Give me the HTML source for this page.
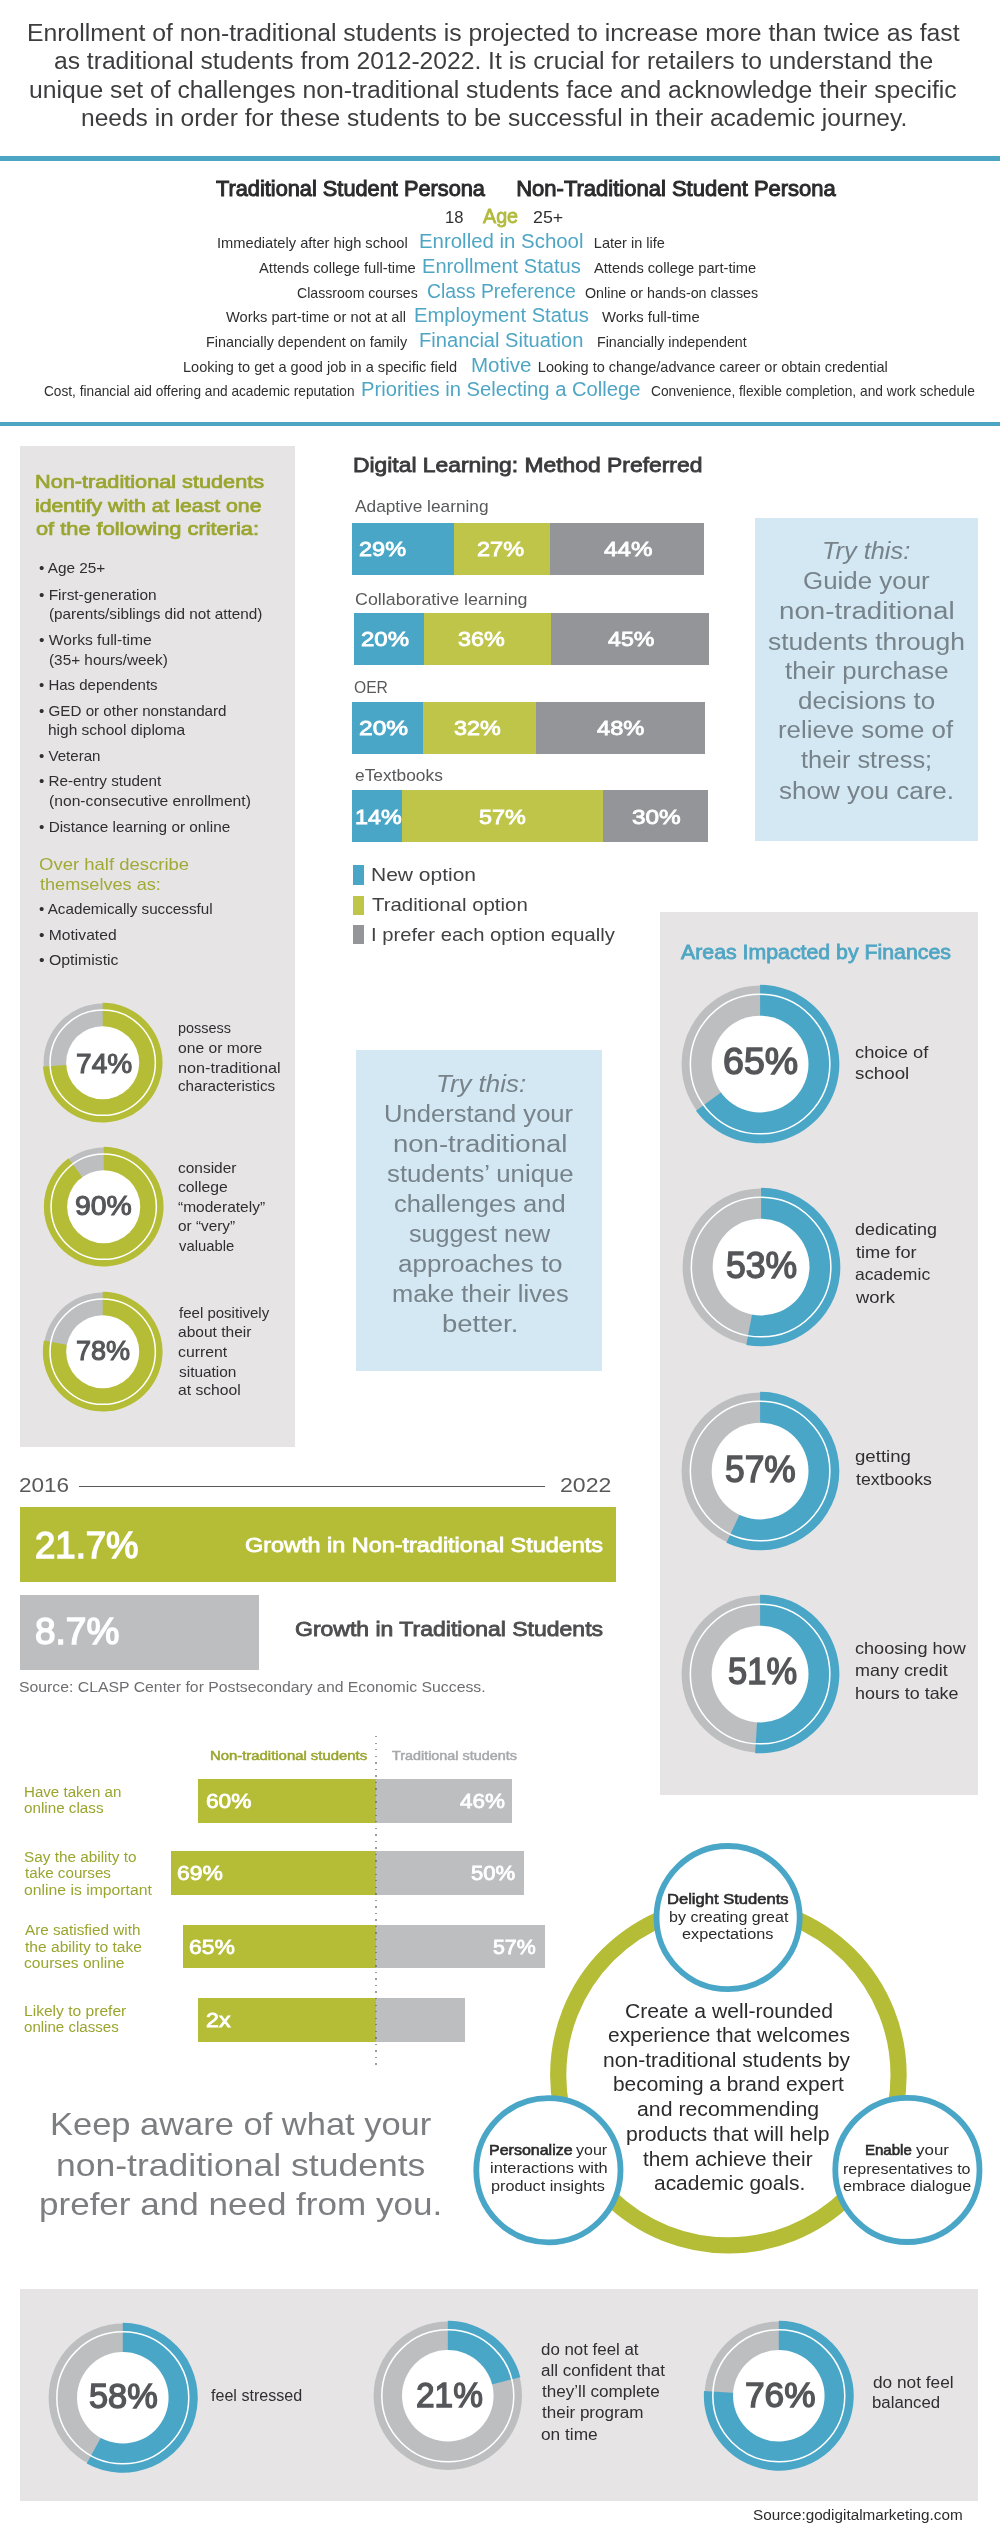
<!DOCTYPE html>
<html><head><meta charset="utf-8"><title>Non-traditional students</title>
<style>
html,body{margin:0;padding:0;background:#fff}
body{width:1000px;height:2544px;position:relative;overflow:hidden;font-family:"Liberation Sans",sans-serif}
#wrap{position:absolute;left:0;top:0;width:1000px;height:2544px;will-change:transform}
.r{position:absolute;display:block}
.t{position:absolute;display:block;white-space:nowrap;line-height:1;transform-origin:0 0}
</style></head><body><div id="wrap">
<span class="t" style="left:27.02px;top:22px;font-size:23px;color:#3d3d3f;transform:scaleX(1.0759);">Enrollment of non-traditional students is projected to increase more than twice as fast</span>
<span class="t" style="left:53.95px;top:50px;font-size:23px;color:#3d3d3f;transform:scaleX(1.0711);">as traditional students from 2012-2022. It is crucial for retailers to understand the</span>
<span class="t" style="left:29.45px;top:79px;font-size:23px;color:#3d3d3f;transform:scaleX(1.0748);">unique set of challenges non-traditional students face and acknowledge their specific</span>
<span class="t" style="left:80.90px;top:107px;font-size:23px;color:#3d3d3f;transform:scaleX(1.0671);">needs in order for these students to be successful in their academic journey.</span>
<div class="r" style="left:0px;top:156.1px;width:1000px;height:4.6px;background:#4ca5c2"></div>
<div class="r" style="left:0px;top:421.8px;width:1000px;height:4.4px;background:#4ca5c2"></div>
<span class="t" style="left:215.55px;top:178px;font-size:22px;color:#2b2b2d;-webkit-text-stroke:0.99px #2b2b2d;transform:scaleX(0.9891);">Traditional Student Persona</span>
<span class="t" style="left:516.24px;top:178px;font-size:22px;color:#2b2b2d;-webkit-text-stroke:0.99px #2b2b2d;">Non-Traditional Student Persona</span>
<span class="t" style="left:445.26px;top:209px;font-size:16.5px;color:#2f2f31;transform:scaleX(1.0050);">18</span>
<span class="t" style="left:482.89px;top:207px;font-size:19.5px;color:#b2ba3c;-webkit-text-stroke:0.78px #b2ba3c;transform:scaleX(1.0112);">Age</span>
<span class="t" style="left:533.11px;top:209px;font-size:16.5px;color:#2f2f31;transform:scaleX(1.0812);">25+</span>
<span class="t" style="left:217.18px;top:236px;font-size:14.5px;color:#2f2f31;transform:scaleX(1.0115);">Immediately after high school</span>
<span class="t" style="left:419.37px;top:231px;font-size:20px;color:#4fa6c4;transform:scaleX(1.0202);">Enrolled in School</span>
<span class="t" style="left:593.84px;top:236px;font-size:14.5px;color:#2f2f31;">Later in life</span>
<span class="t" style="left:259.00px;top:261px;font-size:14.5px;color:#2f2f31;transform:scaleX(1.0176);">Attends college full-time</span>
<span class="t" style="left:421.89px;top:256px;font-size:20px;color:#4fa6c4;transform:scaleX(1.0061);">Enrollment Status</span>
<span class="t" style="left:593.50px;top:261px;font-size:14.5px;color:#2f2f31;transform:scaleX(1.0109);">Attends college part-time</span>
<span class="t" style="left:296.79px;top:286px;font-size:14.5px;color:#2f2f31;transform:scaleX(0.9727);">Classroom courses</span>
<span class="t" style="left:427.03px;top:281px;font-size:20px;color:#4fa6c4;transform:scaleX(0.9700);">Class Preference</span>
<span class="t" style="left:585.36px;top:286px;font-size:14.5px;color:#2f2f31;transform:scaleX(0.9854);">Online or hands-on classes</span>
<span class="t" style="left:225.96px;top:310px;font-size:14.5px;color:#2f2f31;transform:scaleX(1.0121);">Works part-time or not at all</span>
<span class="t" style="left:414.39px;top:305px;font-size:20px;color:#4fa6c4;transform:scaleX(1.0082);">Employment Status</span>
<span class="t" style="left:601.96px;top:310px;font-size:14.5px;color:#2f2f31;transform:scaleX(1.0217);">Works full-time</span>
<span class="t" style="left:206.35px;top:335px;font-size:14.5px;color:#2f2f31;transform:scaleX(0.9902);">Financially dependent on family</span>
<span class="t" style="left:419.39px;top:330px;font-size:20px;color:#4fa6c4;transform:scaleX(1.0059);">Financial Situation</span>
<span class="t" style="left:597.36px;top:335px;font-size:14.5px;color:#2f2f31;transform:scaleX(0.9826);">Financially independent</span>
<span class="t" style="left:182.84px;top:360px;font-size:14.5px;color:#2f2f31;transform:scaleX(1.0030);">Looking to get a good job in a specific field</span>
<span class="t" style="left:471.36px;top:355px;font-size:20px;color:#4fa6c4;transform:scaleX(1.0275);">Motive</span>
<span class="t" style="left:537.84px;top:360px;font-size:14.5px;color:#2f2f31;">Looking to change/advance career or obtain credential</span>
<span class="t" style="left:44.32px;top:384px;font-size:14.5px;color:#2f2f31;transform:scaleX(0.9427);">Cost, financial aid offering and academic reputation</span>
<span class="t" style="left:361.38px;top:379px;font-size:20px;color:#4fa6c4;transform:scaleX(1.0097);">Priorities in Selecting a College</span>
<span class="t" style="left:650.81px;top:384px;font-size:14.5px;color:#2f2f31;transform:scaleX(0.9497);">Convenience, flexible completion, and work schedule</span>
<div class="r" style="left:20px;top:446.3px;width:275px;height:1000.7px;background:#e6e4e5"></div>
<span class="t" style="left:34.70px;top:474px;font-size:17.5px;color:#9aa52e;-webkit-text-stroke:0.70px #9aa52e;transform:scaleX(1.2396);">Non-traditional students</span>
<span class="t" style="left:35.05px;top:498px;font-size:17.5px;color:#9aa52e;-webkit-text-stroke:0.70px #9aa52e;transform:scaleX(1.2124);">identify with at least one</span>
<span class="t" style="left:35.56px;top:521px;font-size:17.5px;color:#9aa52e;-webkit-text-stroke:0.70px #9aa52e;transform:scaleX(1.2457);">of the following criteria:</span>
<span class="t" style="left:39.43px;top:561px;font-size:14.5px;color:#2f2f31;transform:scaleX(1.0573);">• Age 25+</span>
<span class="t" style="left:39.42px;top:588px;font-size:14.5px;color:#2f2f31;transform:scaleX(1.0624);">• First-generation</span>
<span class="t" style="left:48.58px;top:607px;font-size:14.5px;color:#2f2f31;transform:scaleX(1.0545);">(parents/siblings did not attend)</span>
<span class="t" style="left:39.41px;top:633px;font-size:14.5px;color:#2f2f31;transform:scaleX(1.0770);">• Works full-time</span>
<span class="t" style="left:48.58px;top:653px;font-size:14.5px;color:#2f2f31;transform:scaleX(1.0572);">(35+ hours/week)</span>
<span class="t" style="left:39.44px;top:678px;font-size:14.5px;color:#2f2f31;transform:scaleX(1.0336);">• Has dependents</span>
<span class="t" style="left:39.43px;top:704px;font-size:14.5px;color:#2f2f31;transform:scaleX(1.0467);">• GED or other nonstandard</span>
<span class="t" style="left:48.45px;top:723px;font-size:14.5px;color:#2f2f31;transform:scaleX(1.0692);">high school diploma</span>
<span class="t" style="left:39.43px;top:749px;font-size:14.5px;color:#2f2f31;transform:scaleX(1.0410);">• Veteran</span>
<span class="t" style="left:39.43px;top:774px;font-size:14.5px;color:#2f2f31;transform:scaleX(1.0504);">• Re-entry student</span>
<span class="t" style="left:48.56px;top:794px;font-size:14.5px;color:#2f2f31;transform:scaleX(1.0797);">(non-consecutive enrollment)</span>
<span class="t" style="left:39.42px;top:820px;font-size:14.5px;color:#2f2f31;transform:scaleX(1.0578);">• Distance learning or online</span>
<span class="t" style="left:39.17px;top:856px;font-size:17px;color:#a0aa35;transform:scaleX(1.0882);">Over half describe</span>
<span class="t" style="left:39.73px;top:876px;font-size:17px;color:#a0aa35;transform:scaleX(1.0663);">themselves as:</span>
<span class="t" style="left:39.43px;top:902px;font-size:14.5px;color:#2f2f31;transform:scaleX(1.0490);">• Academically successful</span>
<span class="t" style="left:39.41px;top:928px;font-size:14.5px;color:#2f2f31;transform:scaleX(1.0779);">• Motivated</span>
<span class="t" style="left:39.41px;top:953px;font-size:14.5px;color:#2f2f31;transform:scaleX(1.0926);">• Optimistic</span>
<svg class="r" style="left:40.4px;top:1000.3px" width="125.4" height="125.4" viewBox="40.4 1000.3 125.4 125.4"><circle cx="103.1" cy="1063" r="59.10" fill="#bcbec0"/><path d="M103.1 1063 L103.1 1003.15 A59.85 59.85 0 1 1 43.37 1066.76 Z" fill="#b4bd35"/><circle cx="103.1" cy="1063" r="36.54" fill="#fff"/><circle cx="103.1" cy="1063" r="52.66" fill="none" stroke="#fff" stroke-width="1.5"/></svg>
<svg class="r" style="left:40.8px;top:1144.1px" width="125.4" height="125.4" viewBox="40.8 1144.1 125.4 125.4"><circle cx="103.5" cy="1206.8" r="59.10" fill="#bcbec0"/><path d="M103.5 1206.8 L103.5 1146.95 A59.85 59.85 0 1 1 68.32 1158.38 Z" fill="#b4bd35"/><circle cx="103.5" cy="1206.8" r="36.54" fill="#fff"/><circle cx="103.5" cy="1206.8" r="52.66" fill="none" stroke="#fff" stroke-width="1.5"/></svg>
<svg class="r" style="left:39.9px;top:1288.8px" width="125.4" height="125.4" viewBox="39.9 1288.8 125.4 125.4"><circle cx="102.6" cy="1351.5" r="59.10" fill="#bcbec0"/><path d="M102.6 1351.5 L102.6 1291.65 A59.85 59.85 0 1 1 43.81 1340.29 Z" fill="#b4bd35"/><circle cx="102.6" cy="1351.5" r="36.54" fill="#fff"/><circle cx="102.6" cy="1351.5" r="52.66" fill="none" stroke="#fff" stroke-width="1.5"/></svg>
<span class="t" style="left:76.16px;top:1050px;font-size:27.5px;color:#555659;-webkit-text-stroke:1.10px #555659;transform:scaleX(1.0217);">74%</span>
<span class="t" style="left:75.29px;top:1192px;font-size:27.5px;color:#555659;-webkit-text-stroke:1.10px #555659;transform:scaleX(1.0321);">90%</span>
<span class="t" style="left:76.19px;top:1337px;font-size:27.5px;color:#555659;-webkit-text-stroke:1.10px #555659;transform:scaleX(0.9846);">78%</span>
<span class="t" style="left:178.10px;top:1021px;font-size:14.5px;color:#2f2f31;transform:scaleX(0.9949);">possess</span>
<span class="t" style="left:178.37px;top:1041px;font-size:14.5px;color:#2f2f31;transform:scaleX(1.0785);">one or more</span>
<span class="t" style="left:177.95px;top:1061px;font-size:14.5px;color:#2f2f31;transform:scaleX(1.1166);">non-traditional</span>
<span class="t" style="left:178.35px;top:1079px;font-size:14.5px;color:#2f2f31;transform:scaleX(1.0488);">characteristics</span>
<span class="t" style="left:178.34px;top:1161px;font-size:14.5px;color:#2f2f31;transform:scaleX(1.0653);">consider</span>
<span class="t" style="left:178.33px;top:1180px;font-size:14.5px;color:#2f2f31;transform:scaleX(1.0851);">college</span>
<span class="t" style="left:178.46px;top:1200px;font-size:14.5px;color:#2f2f31;transform:scaleX(1.0701);">“moderately”</span>
<span class="t" style="left:178.39px;top:1219px;font-size:14.5px;color:#2f2f31;transform:scaleX(1.0588);">or “very”</span>
<span class="t" style="left:178.96px;top:1239px;font-size:14.5px;color:#2f2f31;transform:scaleX(1.0214);">valuable</span>
<span class="t" style="left:178.81px;top:1306px;font-size:14.5px;color:#2f2f31;transform:scaleX(1.0362);">feel positively</span>
<span class="t" style="left:178.34px;top:1325px;font-size:14.5px;color:#2f2f31;transform:scaleX(1.0712);">about their</span>
<span class="t" style="left:178.33px;top:1345px;font-size:14.5px;color:#2f2f31;transform:scaleX(1.0913);">current</span>
<span class="t" style="left:178.58px;top:1365px;font-size:14.5px;color:#2f2f31;transform:scaleX(1.0632);">situation</span>
<span class="t" style="left:178.33px;top:1383px;font-size:14.5px;color:#2f2f31;transform:scaleX(1.0801);">at school</span>
<span class="t" style="left:352.63px;top:455px;font-size:20.5px;color:#3a3a3c;-webkit-text-stroke:0.82px #3a3a3c;transform:scaleX(1.1149);">Digital Learning: Method Preferred</span>
<span class="t" style="left:354.50px;top:498px;font-size:17px;color:#58595b;transform:scaleX(1.0168);">Adaptive learning</span>
<span class="t" style="left:354.61px;top:591px;font-size:17px;color:#58595b;transform:scaleX(1.0491);">Collaborative learning</span>
<span class="t" style="left:353.80px;top:679px;font-size:17px;color:#58595b;transform:scaleX(0.9202);">OER</span>
<span class="t" style="left:354.76px;top:767px;font-size:17px;color:#58595b;transform:scaleX(1.0212);">eTextbooks</span>
<div class="r" style="left:352px;top:523px;width:102px;height:52px;background:#4aa6c7"></div>
<div class="r" style="left:454px;top:523px;width:96px;height:52px;background:#bec548"></div>
<div class="r" style="left:550px;top:523px;width:154px;height:52px;background:#939598"></div>
<span class="t" style="left:359.30px;top:538px;font-size:21px;color:#fff;-webkit-text-stroke:0.84px #fff;transform:scaleX(1.1190);">29%</span>
<span class="t" style="left:477.30px;top:538px;font-size:21px;color:#fff;-webkit-text-stroke:0.84px #fff;transform:scaleX(1.1190);">27%</span>
<span class="t" style="left:603.94px;top:538px;font-size:21px;color:#fff;-webkit-text-stroke:0.84px #fff;transform:scaleX(1.1515);">44%</span>
<div class="r" style="left:354px;top:613px;width:70px;height:52px;background:#4aa6c7"></div>
<div class="r" style="left:424px;top:613px;width:127px;height:52px;background:#bec548"></div>
<div class="r" style="left:551px;top:613px;width:158px;height:52px;background:#939598"></div>
<span class="t" style="left:361.28px;top:628px;font-size:21px;color:#fff;-webkit-text-stroke:0.84px #fff;transform:scaleX(1.1433);">20%</span>
<span class="t" style="left:457.59px;top:628px;font-size:21px;color:#fff;-webkit-text-stroke:0.84px #fff;transform:scaleX(1.1119);">36%</span>
<span class="t" style="left:607.94px;top:628px;font-size:21px;color:#fff;-webkit-text-stroke:0.84px #fff;transform:scaleX(1.1035);">45%</span>
<div class="r" style="left:352px;top:702px;width:71px;height:52px;background:#4aa6c7"></div>
<div class="r" style="left:423px;top:702px;width:113px;height:52px;background:#bec548"></div>
<div class="r" style="left:536px;top:702px;width:169px;height:52px;background:#939598"></div>
<span class="t" style="left:359.26px;top:717px;font-size:21px;color:#fff;-webkit-text-stroke:0.84px #fff;transform:scaleX(1.1677);">20%</span>
<span class="t" style="left:453.59px;top:717px;font-size:21px;color:#fff;-webkit-text-stroke:0.84px #fff;transform:scaleX(1.1119);">32%</span>
<span class="t" style="left:596.94px;top:717px;font-size:21px;color:#fff;-webkit-text-stroke:0.84px #fff;transform:scaleX(1.1275);">48%</span>
<div class="r" style="left:352px;top:790px;width:50px;height:52px;background:#4aa6c7"></div>
<div class="r" style="left:402px;top:790px;width:201px;height:52px;background:#bec548"></div>
<div class="r" style="left:603px;top:790px;width:105px;height:52px;background:#939598"></div>
<span class="t" style="left:354.72px;top:806px;font-size:21px;color:#fff;-webkit-text-stroke:0.84px #fff;transform:scaleX(1.1089);">14%</span>
<span class="t" style="left:478.53px;top:806px;font-size:21px;color:#fff;-webkit-text-stroke:0.84px #fff;transform:scaleX(1.1133);">57%</span>
<span class="t" style="left:631.57px;top:806px;font-size:21px;color:#fff;-webkit-text-stroke:0.84px #fff;transform:scaleX(1.1603);">30%</span>
<div class="r" style="left:352.5px;top:865px;width:11.2px;height:19.6px;background:#4aa6c7"></div>
<div class="r" style="left:352.5px;top:895.5px;width:11.2px;height:19.5px;background:#bec548"></div>
<div class="r" style="left:352.5px;top:925.2px;width:11.2px;height:18.8px;background:#939598"></div>
<span class="t" style="left:371.32px;top:866px;font-size:18.5px;color:#414143;transform:scaleX(1.1345);">New option</span>
<span class="t" style="left:371.59px;top:896px;font-size:18.5px;color:#414143;transform:scaleX(1.1026);">Traditional option</span>
<span class="t" style="left:371.18px;top:926px;font-size:18.5px;color:#414143;transform:scaleX(1.0924);">I prefer each option equally</span>
<div class="r" style="left:755px;top:517.5px;width:223.4px;height:323.2px;background:#d3e8f2"></div>
<span class="t" style="left:822.28px;top:540px;font-size:23px;color:#77828a;font-style:italic;transform:scaleX(1.1015);">Try this:</span>
<span class="t" style="left:802.71px;top:570px;font-size:23px;color:#77828a;transform:scaleX(1.1258);">Guide your</span>
<span class="t" style="left:779.20px;top:600px;font-size:23px;color:#77828a;transform:scaleX(1.2047);">non-traditional</span>
<span class="t" style="left:768.27px;top:631px;font-size:23px;color:#77828a;transform:scaleX(1.1490);">students through</span>
<span class="t" style="left:784.61px;top:660px;font-size:23px;color:#77828a;transform:scaleX(1.1220);">their purchase</span>
<span class="t" style="left:797.96px;top:690px;font-size:23px;color:#77828a;transform:scaleX(1.1288);">decisions to</span>
<span class="t" style="left:778.32px;top:719px;font-size:23px;color:#77828a;transform:scaleX(1.1230);">relieve some of</span>
<span class="t" style="left:801.12px;top:749px;font-size:23px;color:#77828a;transform:scaleX(1.1031);">their stress;</span>
<span class="t" style="left:779.28px;top:780px;font-size:23px;color:#77828a;transform:scaleX(1.1318);">show you care.</span>
<div class="r" style="left:356.2px;top:1050.2px;width:245.6px;height:320.6px;background:#d3e8f2"></div>
<span class="t" style="left:435.74px;top:1073px;font-size:23px;color:#77828a;font-style:italic;transform:scaleX(1.1249);">Try this:</span>
<span class="t" style="left:384.28px;top:1103px;font-size:23px;color:#77828a;transform:scaleX(1.1122);">Understand your</span>
<span class="t" style="left:392.81px;top:1133px;font-size:23px;color:#77828a;transform:scaleX(1.1963);">non-traditional</span>
<span class="t" style="left:386.89px;top:1163px;font-size:23px;color:#77828a;transform:scaleX(1.1198);">students’ unique</span>
<span class="t" style="left:393.92px;top:1193px;font-size:23px;color:#77828a;transform:scaleX(1.1095);">challenges and</span>
<span class="t" style="left:408.71px;top:1223px;font-size:23px;color:#77828a;transform:scaleX(1.0936);">suggest new</span>
<span class="t" style="left:397.70px;top:1253px;font-size:23px;color:#77828a;transform:scaleX(1.1288);">approaches to</span>
<span class="t" style="left:391.55px;top:1283px;font-size:23px;color:#77828a;transform:scaleX(1.1061);">make their lives</span>
<span class="t" style="left:442.48px;top:1313px;font-size:23px;color:#77828a;transform:scaleX(1.1947);">better.</span>
<div class="r" style="left:660px;top:912px;width:318.4px;height:883px;background:#e6e4e5"></div>
<span class="t" style="left:681.43px;top:943px;font-size:19.5px;color:#4fa6c4;-webkit-text-stroke:0.78px #4fa6c4;transform:scaleX(1.0922);">Areas Impacted by Finances</span>
<svg class="r" style="left:677.9px;top:981.6px" width="164.2" height="164.2" viewBox="677.9 981.6 164.2 164.2"><circle cx="760" cy="1063.7" r="78.50" fill="#bcbec0"/><path d="M760 1063.7 L760 984.45 A79.25 79.25 0 1 1 695.89 1110.28 Z" fill="#4aa6c7"/><circle cx="760" cy="1063.7" r="48.41" fill="#fff"/><circle cx="760" cy="1063.7" r="69.77" fill="none" stroke="#fff" stroke-width="1.5"/></svg>
<svg class="r" style="left:679.3px;top:1184.65px" width="164.2" height="164.2" viewBox="679.3 1184.65 164.2 164.2"><circle cx="761.4" cy="1266.75" r="78.50" fill="#bcbec0"/><path d="M761.4 1266.75 L761.4 1187.50 A79.25 79.25 0 1 1 746.55 1344.60 Z" fill="#4aa6c7"/><circle cx="761.4" cy="1266.75" r="48.41" fill="#fff"/><circle cx="761.4" cy="1266.75" r="69.77" fill="none" stroke="#fff" stroke-width="1.5"/></svg>
<svg class="r" style="left:678.1px;top:1389.15px" width="164.2" height="164.2" viewBox="678.1 1389.15 164.2 164.2"><circle cx="760.2" cy="1471.25" r="78.50" fill="#bcbec0"/><path d="M760.2 1471.25 L760.2 1392.00 A79.25 79.25 0 1 1 726.46 1542.96 Z" fill="#4aa6c7"/><circle cx="760.2" cy="1471.25" r="48.41" fill="#fff"/><circle cx="760.2" cy="1471.25" r="69.77" fill="none" stroke="#fff" stroke-width="1.5"/></svg>
<svg class="r" style="left:677.9px;top:1591.65px" width="164.2" height="164.2" viewBox="677.9 1591.65 164.2 164.2"><circle cx="760" cy="1673.75" r="78.50" fill="#bcbec0"/><path d="M760 1673.75 L760 1594.50 A79.25 79.25 0 1 1 755.02 1752.84 Z" fill="#4aa6c7"/><circle cx="760" cy="1673.75" r="48.41" fill="#fff"/><circle cx="760" cy="1673.75" r="69.77" fill="none" stroke="#fff" stroke-width="1.5"/></svg>
<span class="t" style="left:722.87px;top:1044px;font-size:36.5px;color:#555659;-webkit-text-stroke:1.46px #555659;transform:scaleX(1.0287);">65%</span>
<span class="t" style="left:726.29px;top:1248px;font-size:36.5px;color:#555659;-webkit-text-stroke:1.46px #555659;transform:scaleX(0.9747);">53%</span>
<span class="t" style="left:725.29px;top:1452px;font-size:36.5px;color:#555659;-webkit-text-stroke:1.46px #555659;transform:scaleX(0.9692);">57%</span>
<span class="t" style="left:727.61px;top:1654px;font-size:36.5px;color:#555659;-webkit-text-stroke:1.46px #555659;transform:scaleX(0.9455);">51%</span>
<span class="t" style="left:855.22px;top:1044px;font-size:16.5px;color:#2f2f31;transform:scaleX(1.1089);">choice of</span>
<span class="t" style="left:855.48px;top:1065px;font-size:16.5px;color:#2f2f31;transform:scaleX(1.1374);">school</span>
<span class="t" style="left:855.28px;top:1221px;font-size:16.5px;color:#2f2f31;transform:scaleX(1.0883);">dedicating</span>
<span class="t" style="left:855.73px;top:1244px;font-size:16.5px;color:#2f2f31;transform:scaleX(1.1011);">time for</span>
<span class="t" style="left:855.25px;top:1266px;font-size:16.5px;color:#2f2f31;transform:scaleX(1.0647);">academic</span>
<span class="t" style="left:856.05px;top:1289px;font-size:16.5px;color:#2f2f31;transform:scaleX(1.1162);">work</span>
<span class="t" style="left:855.26px;top:1448px;font-size:16.5px;color:#2f2f31;transform:scaleX(1.1285);">getting</span>
<span class="t" style="left:855.73px;top:1471px;font-size:16.5px;color:#2f2f31;transform:scaleX(1.0746);">textbooks</span>
<span class="t" style="left:855.23px;top:1640px;font-size:16.5px;color:#2f2f31;transform:scaleX(1.0974);">choosing how</span>
<span class="t" style="left:854.83px;top:1662px;font-size:16.5px;color:#2f2f31;transform:scaleX(1.0879);">many credit</span>
<span class="t" style="left:854.79px;top:1685px;font-size:16.5px;color:#2f2f31;transform:scaleX(1.0849);">hours to take</span>
<span class="t" style="left:18.87px;top:1475px;font-size:20.5px;color:#58595b;transform:scaleX(1.0993);">2016</span>
<span class="t" style="left:559.85px;top:1475px;font-size:20.5px;color:#58595b;transform:scaleX(1.1248);">2022</span>
<div class="r" style="left:79px;top:1485.5px;width:466px;height:1.2px;background:#58595b"></div>
<div class="r" style="left:20px;top:1506.8px;width:596px;height:75.2px;background:#b4bd35"></div>
<div class="r" style="left:20px;top:1594.8px;width:238.8px;height:75px;background:#bcbec0"></div>
<span class="t" style="left:34.90px;top:1527px;font-size:37.5px;color:#fff;-webkit-text-stroke:1.50px #fff;transform:scaleX(0.9740);">21.7%</span>
<span class="t" style="left:35.17px;top:1613px;font-size:37.5px;color:#fff;-webkit-text-stroke:1.50px #fff;transform:scaleX(0.9870);">8.7%</span>
<span class="t" style="left:245.30px;top:1534px;font-size:21px;color:#fff;-webkit-text-stroke:0.84px #fff;transform:scaleX(1.1155);">Growth in Non-traditional Students</span>
<span class="t" style="left:295.31px;top:1618px;font-size:21px;color:#4d4d4f;-webkit-text-stroke:0.84px #4d4d4f;transform:scaleX(1.0949);">Growth in Traditional Students</span>
<span class="t" style="left:19.29px;top:1679px;font-size:15.5px;color:#6d6e71;transform:scaleX(1.0187);">Source: CLASP Center for Postsecondary and Economic Success.</span>
<span class="t" style="left:209.91px;top:1750px;font-size:12.5px;color:#9aa52e;-webkit-text-stroke:0.50px #9aa52e;transform:scaleX(1.1900);">Non-traditional students</span>
<span class="t" style="left:392.40px;top:1750px;font-size:12.5px;color:#a7a9ac;-webkit-text-stroke:0.50px #a7a9ac;transform:scaleX(1.1490);">Traditional students</span>
<div class="r" style="left:198px;top:1779.2px;width:178px;height:43.4px;background:#b4bd35"></div>
<div class="r" style="left:376px;top:1779.2px;width:136.4px;height:43.4px;background:#bcbec0"></div>
<span class="t" style="left:206.12px;top:1791px;font-size:20px;color:#fff;-webkit-text-stroke:0.80px #fff;transform:scaleX(1.1341);">60%</span>
<span class="t" style="left:460.44px;top:1791px;font-size:20px;color:#fff;-webkit-text-stroke:0.80px #fff;transform:scaleX(1.1209);">46%</span>
<div class="r" style="left:170.8px;top:1851.3px;width:205.2px;height:43.4px;background:#b4bd35"></div>
<div class="r" style="left:376px;top:1851.3px;width:148px;height:43.4px;background:#bcbec0"></div>
<span class="t" style="left:177.31px;top:1863px;font-size:20px;color:#fff;-webkit-text-stroke:0.80px #fff;transform:scaleX(1.1443);">69%</span>
<span class="t" style="left:470.56px;top:1863px;font-size:20px;color:#fff;-webkit-text-stroke:0.80px #fff;transform:scaleX(1.1055);">50%</span>
<div class="r" style="left:182.8px;top:1924.7px;width:193.2px;height:43.5px;background:#b4bd35"></div>
<div class="r" style="left:376px;top:1924.7px;width:169px;height:43.5px;background:#bcbec0"></div>
<span class="t" style="left:189.31px;top:1937px;font-size:20px;color:#fff;-webkit-text-stroke:0.80px #fff;transform:scaleX(1.1443);">65%</span>
<span class="t" style="left:493.07px;top:1937px;font-size:20px;color:#fff;-webkit-text-stroke:0.80px #fff;transform:scaleX(1.0673);">57%</span>
<div class="r" style="left:197.6px;top:1998px;width:178.4px;height:43.8px;background:#b4bd35"></div>
<div class="r" style="left:376px;top:1998px;width:88.7px;height:43.8px;background:#bcbec0"></div>
<span class="t" style="left:206.10px;top:2010px;font-size:20px;color:#fff;-webkit-text-stroke:0.80px #fff;transform:scaleX(1.1594);">2x</span>
<div class="r" style="left:375.4px;top:1736px;width:1.2px;height:331px;background:repeating-linear-gradient(to bottom,rgba(95,97,100,.62) 0,rgba(95,97,100,.62) 1.3px,transparent 1.3px,transparent 6.55px)"></div>
<span class="t" style="left:23.59px;top:1784px;font-size:15.5px;color:#9aa52e;transform:scaleX(0.9741);">Have taken an</span>
<span class="t" style="left:24.19px;top:1800px;font-size:15.5px;color:#9aa52e;transform:scaleX(0.9821);">online class</span>
<span class="t" style="left:24.11px;top:1849px;font-size:15.5px;color:#9aa52e;transform:scaleX(0.9892);">Say the ability to</span>
<span class="t" style="left:24.57px;top:1865px;font-size:15.5px;color:#9aa52e;transform:scaleX(0.9781);">take courses</span>
<span class="t" style="left:24.17px;top:1882px;font-size:15.5px;color:#9aa52e;transform:scaleX(1.0169);">online is important</span>
<span class="t" style="left:24.80px;top:1922px;font-size:15.5px;color:#9aa52e;transform:scaleX(0.9847);">Are satisfied with</span>
<span class="t" style="left:24.57px;top:1939px;font-size:15.5px;color:#9aa52e;transform:scaleX(1.0052);">the ability to take</span>
<span class="t" style="left:24.14px;top:1955px;font-size:15.5px;color:#9aa52e;transform:scaleX(1.0059);">courses online</span>
<span class="t" style="left:23.55px;top:2003px;font-size:15.5px;color:#9aa52e;transform:scaleX(1.0063);">Likely to prefer</span>
<span class="t" style="left:24.20px;top:2019px;font-size:15.5px;color:#9aa52e;transform:scaleX(0.9728);">online classes</span>
<span class="t" style="left:49.64px;top:2108px;font-size:32px;color:#7d7e81;transform:scaleX(1.0770);">Keep aware of what your</span>
<span class="t" style="left:55.99px;top:2149px;font-size:32px;color:#7d7e81;transform:scaleX(1.1101);">non-traditional students</span>
<span class="t" style="left:39.41px;top:2188px;font-size:32px;color:#7d7e81;transform:scaleX(1.0948);">prefer and need from you.</span>
<svg class="r" style="left:460px;top:1830px" width="540" height="440" viewBox="460 1830 540 440"><circle cx="728.4" cy="2075.2" r="170.2" fill="none" stroke="#b4bd35" stroke-width="16.2"/><circle cx="728.1" cy="1917.6" r="71.6" fill="#fff" stroke="#4aa6c7" stroke-width="5.8"/><circle cx="548.4" cy="2170.2" r="72.1" fill="#fff" stroke="#4aa6c7" stroke-width="5.8"/><circle cx="907.4" cy="2169.9" r="72.1" fill="#fff" stroke="#4aa6c7" stroke-width="5.8"/></svg>
<span class="t" style="left:666.91px;top:1892px;font-size:14.5px;color:#2b2b2d;-webkit-text-stroke:0.58px #2b2b2d;transform:scaleX(1.1433);">Delight Students</span>
<span class="t" style="left:668.50px;top:1909px;font-size:15.5px;color:#2b2b2d;transform:scaleX(1.0342);">by creating great</span>
<span class="t" style="left:682.31px;top:1926px;font-size:15.5px;color:#2b2b2d;transform:scaleX(1.0509);">expectations</span>
<span class="t" style="left:624.74px;top:2001px;font-size:20.5px;color:#2b2b2d;transform:scaleX(1.0318);">Create a well-rounded</span>
<span class="t" style="left:607.61px;top:2025px;font-size:20.5px;color:#2b2b2d;transform:scaleX(1.0206);">experience that welcomes</span>
<span class="t" style="left:603.33px;top:2050px;font-size:20.5px;color:#2b2b2d;transform:scaleX(1.0275);">non-traditional students by</span>
<span class="t" style="left:612.60px;top:2074px;font-size:20.5px;color:#2b2b2d;transform:scaleX(1.0182);">becoming a brand expert</span>
<span class="t" style="left:637.30px;top:2099px;font-size:20.5px;color:#2b2b2d;transform:scaleX(1.0373);">and recommending</span>
<span class="t" style="left:626.08px;top:2124px;font-size:20.5px;color:#2b2b2d;transform:scaleX(1.0328);">products that will help</span>
<span class="t" style="left:643.29px;top:2149px;font-size:20.5px;color:#2b2b2d;transform:scaleX(1.0128);">them achieve their</span>
<span class="t" style="left:653.51px;top:2173px;font-size:20.5px;color:#2b2b2d;transform:scaleX(1.0213);">academic goals.</span>
<span class="t" style="left:488.74px;top:2143px;font-size:14.5px;color:#2b2b2d;-webkit-text-stroke:0.58px #2b2b2d;transform:scaleX(1.1037);">Personalize</span>
<span class="t" style="left:575.96px;top:2142px;font-size:15.5px;color:#2b2b2d;transform:scaleX(1.0343);">your</span>
<span class="t" style="left:489.73px;top:2160px;font-size:15.5px;color:#2b2b2d;transform:scaleX(1.0581);">interactions with</span>
<span class="t" style="left:491.38px;top:2178px;font-size:15.5px;color:#2b2b2d;transform:scaleX(1.0489);">product insights</span>
<span class="t" style="left:864.60px;top:2143px;font-size:14.5px;color:#2b2b2d;-webkit-text-stroke:0.58px #2b2b2d;transform:scaleX(1.0356);">Enable</span>
<span class="t" style="left:915.96px;top:2142px;font-size:15.5px;color:#2b2b2d;transform:scaleX(1.0945);">your</span>
<span class="t" style="left:843.46px;top:2161px;font-size:15.5px;color:#2b2b2d;transform:scaleX(1.0349);">representatives to</span>
<span class="t" style="left:842.71px;top:2178px;font-size:15.5px;color:#2b2b2d;transform:scaleX(1.0410);">embrace dialogue</span>
<div class="r" style="left:20px;top:2288.8px;width:958.4px;height:212.4px;background:#e6e4e5"></div>
<svg class="r" style="left:45px;top:2319.5px" width="155.6" height="155.6" viewBox="45 2319.5 155.6 155.6"><circle cx="122.8" cy="2397.3" r="74.20" fill="#bcbec0"/><path d="M122.8 2397.3 L122.8 2322.35 A74.95 74.95 0 1 1 86.69 2462.98 Z" fill="#4aa6c7"/><circle cx="122.8" cy="2397.3" r="45.78" fill="#fff"/><circle cx="122.8" cy="2397.3" r="65.97" fill="none" stroke="#fff" stroke-width="1.5"/></svg>
<svg class="r" style="left:369.8px;top:2317.8px" width="155.6" height="155.6" viewBox="369.8 2317.8 155.6 155.6"><circle cx="447.6" cy="2395.6" r="74.20" fill="#bcbec0"/><path d="M447.6 2395.6 L447.6 2320.65 A74.95 74.95 0 0 1 520.20 2376.96 Z" fill="#4aa6c7"/><circle cx="447.6" cy="2395.6" r="45.78" fill="#fff"/><circle cx="447.6" cy="2395.6" r="65.97" fill="none" stroke="#fff" stroke-width="1.5"/></svg>
<svg class="r" style="left:701.1px;top:2317.8px" width="155.6" height="155.6" viewBox="701.1 2317.8 155.6 155.6"><circle cx="778.9" cy="2395.6" r="74.20" fill="#bcbec0"/><path d="M778.9 2395.6 L778.9 2320.65 A74.95 74.95 0 1 1 704.10 2390.89 Z" fill="#4aa6c7"/><circle cx="778.9" cy="2395.6" r="45.78" fill="#fff"/><circle cx="778.9" cy="2395.6" r="65.97" fill="none" stroke="#fff" stroke-width="1.5"/></svg>
<span class="t" style="left:88.61px;top:2379px;font-size:34.5px;color:#555659;-webkit-text-stroke:1.38px #555659;transform:scaleX(0.9959);">58%</span>
<span class="t" style="left:416.30px;top:2378px;font-size:34.5px;color:#555659;-webkit-text-stroke:1.38px #555659;transform:scaleX(0.9684);">21%</span>
<span class="t" style="left:744.74px;top:2378px;font-size:34.5px;color:#555659;-webkit-text-stroke:1.38px #555659;transform:scaleX(1.0217);">76%</span>
<span class="t" style="left:210.60px;top:2388px;font-size:16px;color:#2f2f31;transform:scaleX(1.0058);">feel stressed</span>
<span class="t" style="left:541.33px;top:2342px;font-size:16px;color:#2f2f31;transform:scaleX(1.0545);">do not feel at</span>
<span class="t" style="left:541.28px;top:2363px;font-size:16px;color:#2f2f31;transform:scaleX(1.0643);">all confident that</span>
<span class="t" style="left:541.74px;top:2384px;font-size:16px;color:#2f2f31;transform:scaleX(1.0684);">they’ll complete</span>
<span class="t" style="left:541.74px;top:2405px;font-size:16px;color:#2f2f31;transform:scaleX(1.0652);">their program</span>
<span class="t" style="left:541.31px;top:2427px;font-size:16px;color:#2f2f31;transform:scaleX(1.0798);">on time</span>
<span class="t" style="left:872.51px;top:2375px;font-size:16px;color:#2f2f31;transform:scaleX(1.0789);">do not feel</span>
<span class="t" style="left:872.15px;top:2395px;font-size:16px;color:#2f2f31;transform:scaleX(1.0490);">balanced</span>
<span class="t" style="left:753.31px;top:2507px;font-size:15.5px;color:#2b2b2d;transform:scaleX(0.9853);">Source:godigitalmarketing.com</span>
</div></body></html>
